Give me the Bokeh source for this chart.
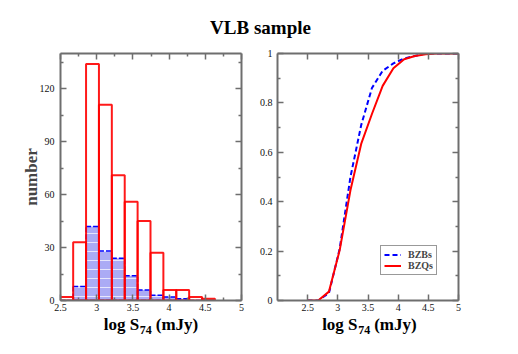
from bokeh.plotting import figure
from bokeh.layouts import column, row
from bokeh.models import (FixedTicker, LinearAxis, Legend, LegendItem,
                          CustomJSTickFormatter, Range1d)
from bokeh.core.properties import value
from bokeh.embed import file_html
from bokeh.resources import INLINE

# ---- data ----
bin_edges = [2.497, 2.675, 2.853, 3.031, 3.209, 3.387, 3.565, 3.743, 3.921,
             4.099, 4.277, 4.455, 4.633]
bzq_counts = [2, 33, 134, 111, 71, 56, 45, 27, 6, 6, 2, 1]
bzb_counts = [0, 8, 42, 28, 24, 14, 6, 3, 2, 1, 0, 0]

cdf_x = [2.497, 2.675, 2.853, 3.031, 3.209, 3.387, 3.565, 3.743, 3.921,
         4.099, 4.277, 4.455, 4.633, 5.0]
cdf_bzb = [0, 0, 0.03, 0.21, 0.50, 0.71, 0.86, 0.93, 0.96, 0.98, 0.99, 1.0, 1.0, 1.0]
cdf_bzq = [0, 0, 0.036, 0.204, 0.446, 0.634, 0.755, 0.869, 0.94, 0.977, 0.99, 0.997, 1.0, 1.0]

x_ticks_left = [2.5, 3, 3.5, 4, 4.5, 5]
x_minor_left = [2.75, 3.25, 3.75, 4.25, 4.75]
y_ticks_left = [0, 30, 60, 90, 120]
y_minor_left = [15, 45, 75, 105, 135]
x_ticks_right = [2.5, 3, 3.5, 4, 4.5, 5]
y_ticks_right = [0, 0.2, 0.4, 0.6, 0.8, 1.0]
y_minor_right = [0.1, 0.3, 0.5, 0.7, 0.9]

title_text = "VLB sample"
xlabel_parts = ["log S", "74", "(mJy)"]
ylabel_text = "number"
legend_labels = ["BZBs", "BZQs"]

SERIF = "Liberation Serif"
FRAME = "#6e6e6e"
fmt = CustomJSTickFormatter(code="return String(Number(tick.toFixed(3)));")
blank_fmt = CustomJSTickFormatter(code="return '';")


def style_axis(ax, ticks, minor, show_labels=True, standoff=4):
    ax.ticker = FixedTicker(ticks=ticks, minor_ticks=minor)
    ax.axis_line_color = FRAME
    ax.axis_line_width = 2
    ax.major_tick_line_color = FRAME
    ax.minor_tick_line_color = FRAME
    ax.major_tick_line_width = 1.5
    ax.minor_tick_line_width = 1.5
    ax.major_tick_in = 6
    ax.major_tick_out = 0
    ax.minor_tick_in = 3
    ax.minor_tick_out = 0
    ax.major_label_text_font = SERIF
    if show_labels:
        ax.formatter = fmt
        ax.major_label_text_color = "#111111"
        ax.major_label_text_font_size = "10px"
        ax.major_label_standoff = standoff
    else:
        ax.formatter = blank_fmt
        ax.major_label_text_color = None
        ax.major_label_text_font_size = "0px"
        ax.major_label_standoff = 0


def make_fig(xr, yr, left, right):
    p = figure(x_range=xr, y_range=yr, frame_width=181, frame_height=247,
               min_border_left=left, min_border_right=right,
               min_border_top=5, min_border_bottom=15,
               output_backend="svg", toolbar_location=None)
    p.grid.visible = False
    p.outline_line_color = None
    return p


def add_mirrors(p, xt, xm, yt, ym):
    top = LinearAxis()
    rgt = LinearAxis()
    style_axis(top, xt, xm, show_labels=False)
    style_axis(rgt, yt, ym, show_labels=False)
    p.add_layout(top, "above")
    p.add_layout(rgt, "right")


def label_strip(xr, left, right, xstart):
    s = figure(x_range=xr, y_range=Range1d(0, 23), frame_width=181, frame_height=23,
               min_border_left=left, min_border_right=right, min_border_top=0,
               min_border_bottom=0, output_backend="svg", toolbar_location=None,
               x_axis_type=None, y_axis_type=None)
    s.grid.visible = False
    s.outline_line_color = None
    common = dict(text_font=value(SERIF), text_font_style="bold", text_color="black",
                  text_align="left", text_baseline="alphabetic")
    s.text(x=[xstart], y=[14], text=[xlabel_parts[0]], x_offset=0,
           text_font_size="17px", **common)
    s.text(x=[xstart], y=[9], text=[xlabel_parts[1]], x_offset=36,
           text_font_size="12px", **common)
    s.text(x=[xstart], y=[14], text=[xlabel_parts[2]], x_offset=52,
           text_font_size="17px", **common)
    return s


# ---- left panel: histograms ----
p1 = make_fig(Range1d(2.5, 5), Range1d(0, 140), 60, 10)
style_axis(p1.xaxis[0], x_ticks_left, x_minor_left, standoff=3)
style_axis(p1.yaxis[0], y_ticks_left, y_minor_left, standoff=6)
p1.yaxis[0].axis_label = ylabel_text
p1.yaxis[0].axis_label_text_font = SERIF
p1.yaxis[0].axis_label_text_font_style = "bold"
p1.yaxis[0].axis_label_text_font_size = "17px"
p1.yaxis[0].axis_label_standoff = -4
add_mirrors(p1, x_ticks_left, x_minor_left, y_ticks_left, y_minor_left)

lefts = bin_edges[:-1]
rights = bin_edges[1:]
p1.quad(left=lefts, right=rights, bottom=0, top=bzb_counts,
        fill_color="#ababf5", line_color=None,
        hatch_pattern="-", hatch_color="white", hatch_alpha=0.7,
        hatch_scale=9, hatch_weight=1)
p1.quad(left=lefts, right=rights, bottom=0, top=bzb_counts,
        fill_color=None, line_color="#0000ff", line_width=1.5, line_dash="5 2")
p1.quad(left=lefts, right=rights, bottom=0, top=bzq_counts,
        fill_color=None, line_color="#ff0000", line_width=2, line_alpha=0.9)

# ---- right panel: cumulative distributions ----
p2 = make_fig(Range1d(2, 5), Range1d(0, 1), 26, 10)
style_axis(p2.xaxis[0], x_ticks_right, [], standoff=3)
style_axis(p2.yaxis[0], y_ticks_right, y_minor_right, standoff=5)
add_mirrors(p2, x_ticks_right, [], y_ticks_right, y_minor_right)

r_b = p2.line(cdf_x, cdf_bzb, line_color="#0000ff", line_width=2, line_dash="5 3")
r_q = p2.line(cdf_x, cdf_bzq, line_color="#ff0000", line_width=2)
legend = Legend(items=[LegendItem(label=legend_labels[0], renderers=[r_b]),
                       LegendItem(label=legend_labels[1], renderers=[r_q])],
                location=(103, 25), padding=3, spacing=0, margin=0,
                glyph_width=17, glyph_height=11, label_height=11,
                label_standoff=7, label_text_font=SERIF,
                label_text_font_style="bold", label_text_font_size="10px",
                border_line_color="#333333", border_line_width=1,
                background_fill_alpha=1)
p2.add_layout(legend, "center")

s1 = label_strip(p1.x_range, 60, 10, 3.098)
s2 = label_strip(p2.x_range, 26, 10, 2.74)

# ---- title ----
pt = figure(x_range=Range1d(0, 468), y_range=Range1d(0, 48), width=468, height=48,
            min_border=0, output_backend="svg", toolbar_location=None,
            x_axis_type=None, y_axis_type=None)
pt.grid.visible = False
pt.outline_line_color = None
pt.text(x=[260], y=[21.3], text=[title_text], text_font=value(SERIF),
        text_font_style="bold", text_font_size="19px", text_align="center",
        text_baseline="alphabetic", text_color="black")

layout = column(pt, row(p1, p2, spacing=0), row(s1, s2, spacing=0), spacing=0)
open("out.html", "w").write(file_html(layout, INLINE))
